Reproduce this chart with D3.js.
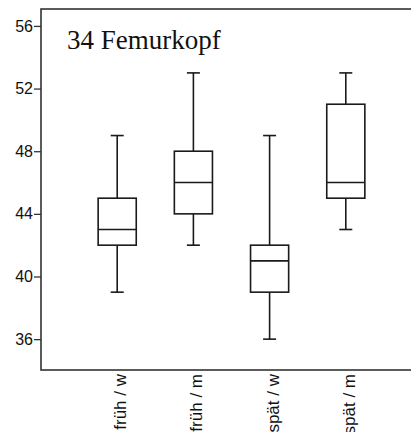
<!DOCTYPE html>
<html>
<head>
<meta charset="utf-8">
<script src="https://cdn.jsdelivr.net/npm/d3@7"></script>
<style>
  html, body { margin: 0; padding: 0; background: #fff; }
  svg { display: block; }
</style>
</head>
<body>
<svg id="chart" width="411" height="432"></svg>
<script>
// Box plot summaries per group
const categories = ["früh / w", "früh / m", "spät / w", "spät / m"];
const whiskerLow  = [39, 42, 36, 43];
const quart1      = [42, 44, 39, 45];
const medians     = [43, 46, 41, 46];
const quart3      = [45, 48, 42, 51];
const whiskerHigh = [49, 53, 49, 53];
const yTicks = [36, 40, 44, 48, 52, 56];
const title = "34 Femurkopf";

const svg = d3.select("#chart");
const plot = { left: 41, right: 422, top: 9, bottom: 370 };

const x = d3.scalePoint().domain(categories).range([plot.left, plot.right]).padding(1);
const y = d3.scaleLinear().domain([34.03, 57.08]).range([plot.bottom, plot.top]);

const boxW = x.step() * 0.5;
const capW = 13;
const stroke = "#1a1a1a";

// frame
svg.append("rect")
  .attr("x", plot.left).attr("y", plot.top)
  .attr("width", plot.right - plot.left).attr("height", plot.bottom - plot.top)
  .attr("fill", "none").attr("stroke", "#333").attr("stroke-width", 1.6);

// y axis
const yAxis = d3.axisLeft(y).tickValues(yTicks).tickSize(7).tickPadding(1).tickFormat(d3.format("d"));
const gy = svg.append("g").attr("transform", `translate(${plot.left},0)`).call(yAxis);
gy.select(".domain").remove();
gy.selectAll(".tick line").attr("stroke", "#333").attr("stroke-width", 1.3);
gy.selectAll(".tick text")
  .attr("font-family", "'Liberation Sans', Arial, sans-serif")
  .attr("font-size", 16).attr("fill", "#111");

// x axis labels, rotated
const xAxis = d3.axisBottom(x).tickSize(0).tickPadding(0);
const gx = svg.append("g").attr("transform", `translate(0,${plot.bottom})`).call(xAxis);
gx.select(".domain").remove();
gx.selectAll(".tick text")
  .attr("font-family", "'Liberation Sans', Arial, sans-serif")
  .attr("font-size", 17).attr("fill", "#111")
  .attr("text-anchor", "end")
  .attr("transform", "rotate(-90)")
  .attr("x", -4).attr("y", 8.5).attr("dy", 0);

// boxes
const data = categories.map((c, i) => ({
  c, lo: whiskerLow[i], q1: quart1[i], med: medians[i], q3: quart3[i], hi: whiskerHigh[i]
}));

const g = svg.append("g").attr("stroke", stroke).attr("stroke-width", 1.6).attr("fill", "none");
const box = g.selectAll("g.box").data(data).join("g").attr("class", "box");

box.append("line")
  .attr("x1", d => x(d.c)).attr("x2", d => x(d.c))
  .attr("y1", d => y(d.hi)).attr("y2", d => y(d.q3));
box.append("line")
  .attr("x1", d => x(d.c)).attr("x2", d => x(d.c))
  .attr("y1", d => y(d.q1)).attr("y2", d => y(d.lo));
box.append("line")
  .attr("x1", d => x(d.c) - capW / 2).attr("x2", d => x(d.c) + capW / 2)
  .attr("y1", d => y(d.hi)).attr("y2", d => y(d.hi));
box.append("line")
  .attr("x1", d => x(d.c) - capW / 2).attr("x2", d => x(d.c) + capW / 2)
  .attr("y1", d => y(d.lo)).attr("y2", d => y(d.lo));
box.append("rect")
  .attr("x", d => x(d.c) - boxW / 2).attr("width", boxW)
  .attr("y", d => y(d.q3)).attr("height", d => y(d.q1) - y(d.q3))
  .attr("fill", "#fff");
box.append("line")
  .attr("x1", d => x(d.c) - boxW / 2).attr("x2", d => x(d.c) + boxW / 2)
  .attr("y1", d => y(d.med)).attr("y2", d => y(d.med));

// title
svg.append("text")
  .attr("x", 67).attr("y", 49)
  .attr("font-family", "'Liberation Serif', 'Times New Roman', serif")
  .attr("font-size", 27).attr("fill", "#111")
  .text(title);
</script>
</body>
</html>
